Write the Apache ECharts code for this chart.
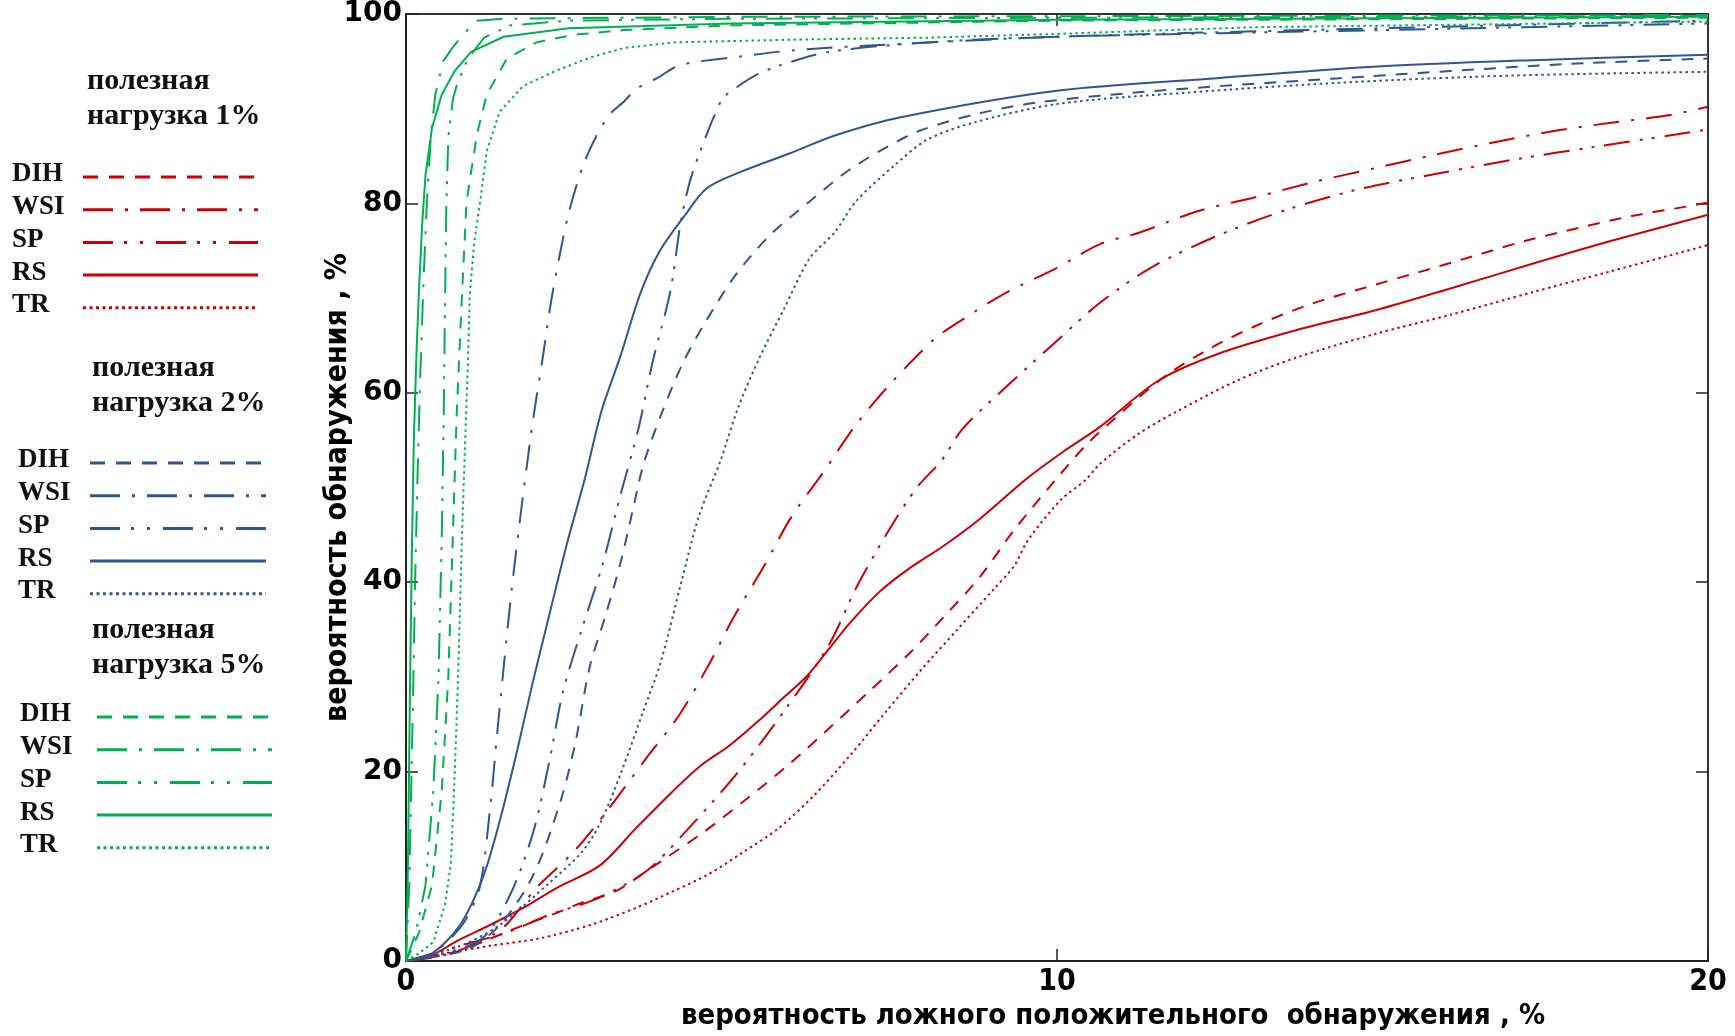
<!DOCTYPE html>
<html>
<head>
<meta charset="utf-8">
<title>ROC</title>
<script src="https://cdn.jsdelivr.net/npm/echarts@6/dist/echarts.min.js"></script>
<style>
  html, body { margin: 0; padding: 0; background: #fff; }
  #chart { width: 1735px; height: 1036px; }
</style>
</head>
<body>
<div id="chart"></div>
<script>
// axes
const xTicks = [0, 10, 20];
const yTicks = [0, 20, 40, 60, 80, 100];
const xName = 'вероятность ложного положительного  обнаружения , %';
const yName = 'вероятность обнаружения , %';
const methods = ['DIH', 'WSI', 'SP', 'RS', 'TR'];
const payloads = ['полезная\nнагрузка 1%', 'полезная\nнагрузка 2%', 'полезная\nнагрузка 5%'];

// payload 1% (red)
const red_DIH = [[0,0],[0.78,1],[1.24,2.2],[1.7,3.5],[2.21,4.8],[2.72,6.2],[3.2,7.3],[3.53,8.7],[3.91,10.5],[4.57,13.6],[5.23,17.1],[5.89,20.8],[6.52,24.7],[7.12,28.5],[7.75,32.6],[8.27,36.4],[8.82,40.6],[9.34,45.5],[9.89,50.1],[10.45,54.5],[11.02,58.1],[11.65,61.7],[12.38,64.8],[13.13,67.3],[13.91,69.4],[14.73,71.1],[15.54,72.7],[16.38,74.4],[17.17,76],[18.01,77.4],[18.85,78.7],[19.7,79.7],[20,80.1]];
const red_WSI = [[0,0],[0.52,0.5],[1.03,1.7],[1.49,3.5],[2,7.7],[2.57,11.5],[3.05,15.5],[3.7,21.5],[4.2,26],[4.66,31.4],[5.05,36.5],[5.5,41.7],[5.92,46.9],[6.4,51.5],[6.91,56.6],[7.46,61.1],[8.12,65.7],[8.45,67.3],[9.2,70.5],[10,73.2],[10.66,75.7],[11.26,76.9],[12.17,79.2],[13.07,80.7],[13.97,82.3],[14.87,83.7],[15.78,85.1],[16.68,86.4],[17.59,87.6],[18.49,88.5],[19.39,89.3],[20,90.2]];
const red_SP = [[0,0],[0.52,1],[1.03,2],[1.55,3],[2.21,4.9],[2.83,6.3],[3.45,8.4],[3.8,10.1],[4.46,14.9],[5.12,20.1],[5.83,26.6],[6.49,33.3],[6.93,39.6],[7.48,46.2],[7.86,50.1],[8.22,52.8],[8.55,56.2],[9.2,60.5],[10,65.5],[10.66,69.5],[11.44,73.2],[12.47,76.6],[13.56,79.4],[14.7,81.6],[15.89,83.2],[17.08,84.7],[18.29,86],[19.43,87.2],[20,87.8]];
const red_RS = [[0,0],[0.42,0.7],[0.78,2.1],[1.29,3.8],[1.8,5.6],[2.31,7.7],[2.98,10.1],[3.53,14],[4.08,17.8],[4.52,20.6],[4.96,22.7],[5.39,25.2],[5.83,28],[6.16,30.1],[6.49,32.9],[6.82,35.7],[7.26,38.9],[7.7,41.3],[8.25,43.8],[8.8,46.6],[9.51,50.8],[10.1,53.8],[10.66,56.4],[11.56,61.3],[12.47,64.1],[13.67,66.6],[14.88,68.7],[16.08,71.1],[17.29,73.6],[18.49,76],[20,78.8]];
const red_TR = [[0,0],[0.52,0.7],[1.29,1.6],[2.06,2.4],[2.83,3.8],[3.53,5.6],[4.08,7.3],[4.63,9.1],[5.18,11.5],[5.72,14],[6.27,17.5],[6.82,21.7],[7.37,26.3],[7.92,30.8],[8.47,35],[9.02,39.2],[9.34,41.7],[9.56,44.5],[10.06,48.7],[10.44,50.8],[10.66,52.5],[11.26,55.7],[11.86,58.1],[12.77,61.3],[13.67,63.7],[14.88,66.2],[16.08,68.3],[17.29,70.6],[18.49,72.8],[20,75.6]];

// payload 2% (blue)
const blue_DIH = [[0,0],[0.93,1.2],[1.44,3.8],[1.95,9],[2.37,16.8],[2.6,23],[2.82,31],[3.07,36.6],[3.29,41.9],[3.48,47.5],[3.65,52.5],[3.92,57.7],[4.25,63.1],[4.61,67.6],[5.07,72.5],[5.6,76.7],[6.2,80.2],[6.8,83.5],[7.4,86],[7.9,87.7],[8.8,89.5],[9.75,90.7],[11.55,91.9],[14.3,93.2],[17.8,94.7],[20,95.3]];
const blue_WSI = [[0,0],[0.4,0.8],[0.7,2.5],[0.93,4.5],[1.14,8],[1.29,16],[1.4,24],[1.5,31],[1.62,39],[1.74,46],[1.86,52.5],[1.97,58],[2.1,63.7],[2.22,69.3],[2.36,74.5],[2.5,79],[2.72,84],[2.93,87.2],[3.13,89.4],[3.34,90.7],[3.54,92.1],[3.85,93.2],[4.21,94.6],[5.13,95.5],[6,96.2],[7.5,96.8],[10,97.6],[15,98.5],[20,99.3]];
const blue_SP = [[0,0],[0.6,0.8],[1.19,2.5],[1.6,7],[1.95,13.5],[2.2,21],[2.41,28.4],[2.69,34.8],[3.02,41.9],[3.29,49.1],[3.57,56.2],[3.79,63.3],[4.06,70.7],[4.22,78],[4.36,82.3],[4.52,85.5],[4.72,89],[4.87,91.1],[5.13,92.5],[5.39,93.6],[5.75,94.6],[6.5,96],[8,97],[10,97.6],[15,98.3],[20,99]];
const blue_RS = [[0,0],[0.4,0.8],[0.83,3.8],[1.19,9],[1.44,14.8],[1.7,22],[1.95,29.5],[2.2,36.5],[2.47,44],[2.75,51],[3,58],[3.3,64],[3.6,70.5],[3.9,75],[4.28,78.7],[4.62,81.6],[5.13,83.3],[5.9,85.3],[6.6,87.2],[7.6,89.1],[10,91.9],[12.4,93.2],[14.8,94.4],[17.2,95.1],[20,95.7]];
const blue_TR = [[0,0],[0.8,1.5],[1.44,3.8],[2.21,8.3],[2.7,11.5],[2.98,14.5],[3.31,20],[3.64,26.3],[3.91,31.5],[4.24,40.3],[4.5,47],[4.83,52.8],[5.1,58.4],[5.43,63.7],[5.81,68.9],[6.2,74.2],[6.58,76.9],[6.91,80.2],[7.5,84],[8,86.7],[8.7,88.5],[10,90.5],[12,91.7],[14.5,92.8],[17,93.5],[20,93.9]];

// payload 5% (green)
const green_DIH = [[0,0],[0.2,3],[0.4,8],[0.55,18],[0.65,30],[0.72,45],[0.78,58],[0.86,70.4],[0.93,80.2],[1.09,87.3],[1.24,91.5],[1.55,95.3],[2,97],[2.57,97.8],[3.34,98.3],[5,98.8],[10,99.3],[20,99.6]];
const green_WSI = [[0,0],[0.05,8],[0.1,25],[0.14,40],[0.18,52],[0.22,62],[0.27,72],[0.32,80],[0.38,87],[0.45,91.5],[0.57,95],[0.72,96.5],[0.9,98],[1.09,99.3],[1.5,99.5],[5,99.7],[20,99.9]];
const green_SP = [[0,0],[0.15,3],[0.3,8],[0.42,18],[0.5,30],[0.55,45],[0.58,58],[0.6,70],[0.62,80],[0.65,87],[0.72,91],[0.78,92.5],[0.95,95.3],[1.2,97.5],[1.6,98.8],[2.5,99.3],[5,99.5],[20,99.8]];
const green_RS = [[0,0],[0.03,10],[0.06,28],[0.09,43],[0.12,55],[0.16,64],[0.2,71],[0.25,78],[0.3,83],[0.4,88],[0.55,91.5],[0.75,94],[1,96],[1.5,97.6],[2.5,98.5],[5,99],[10,99.4],[20,99.7]];
const green_TR = [[0,0],[0.2,0.8],[0.42,2],[0.6,6],[0.69,10.3],[0.75,20],[0.8,30],[0.86,45],[0.91,55],[0.95,63],[0.98,70.4],[1.05,76],[1.14,80.2],[1.24,85.5],[1.44,89.7],[1.8,92.4],[2.3,94],[2.83,95.4],[3.34,96.4],[4.1,97],[6,97.3],[8,97.5],[10,97.9],[13,98.6],[20,99.2]];

const groupData = [
  [red_DIH, red_WSI, red_SP, red_RS, red_TR],
  [blue_DIH, blue_WSI, blue_SP, blue_RS, blue_TR],
  [green_DIH, green_WSI, green_SP, green_RS, green_TR],
];

// styles
const colors = ['#cc0000', '#2c5694', '#00b050'];
const smoothing = [0.3, 0.3, 0];
const plotDash = [[12, 10], [26, 12, 3, 12], [26, 10, 3, 9, 3, 10], 'solid', [2.5, 3.5]];
const legendDash = [[15, 11], [30, 12, 3, 12], [30, 11, 3, 13, 3, 13], 'solid', [3, 3.5]];
const legendPos = [
  { hx: 87, hy: 83, ty: 177, tx: 12, lx1: 83, lx2: 258 },
  { hx: 92, hy: 370, ty: 463, tx: 18, lx1: 90, lx2: 266 },
  { hx: 92, hy: 632, ty: 717, tx: 20, lx1: 97, lx2: 272 },
];
const rowGap = 32.7;
const headGap = 35;
const serif = '"Liberation Serif", "DejaVu Serif", serif';
const narrow = '"Liberation Sans Narrow", "DejaVu Sans Condensed", "DejaVu Sans", sans-serif';

const series = [];
groupData.forEach((lines, g) => {
  lines.forEach((data, m) => {
    series.push({
      name: payloads[g] + ' ' + methods[m],
      type: 'line',
      data,
      showSymbol: false,
      silent: true,
      clip: true,
      smooth: smoothing[g],
      lineStyle: { color: colors[g], width: 2, type: plotDash[m] },
    });
  });
});

const graphic = [];
payloads.forEach((title, g) => {
  const p = legendPos[g];
  title.split('\n').forEach((txt, i) => {
    graphic.push({
      type: 'text',
      left: p.hx,
      top: p.hy + i * headGap - 17,
      style: { text: txt, font: 'bold 30px ' + serif, fill: '#111' },
    });
  });
  methods.forEach((name, m) => {
    const y = p.ty + m * rowGap;
    graphic.push({
      type: 'text',
      left: p.tx,
      top: y - 16,
      style: { text: name, font: 'bold 27px ' + serif, fill: '#111' },
    });
    graphic.push({
      type: 'line',
      shape: { x1: p.lx1, y1: y, x2: p.lx2, y2: y },
      style: {
        stroke: colors[g],
        lineWidth: 3,
        lineDash: legendDash[m] === 'solid' ? null : legendDash[m],
      },
    });
  });
});

const axisLine = { show: true, onZero: false, lineStyle: { color: '#222', width: 2 } };
const axisTick = { show: true, inside: true, length: 12, lineStyle: { color: '#222', width: 1.5 } };

const chart = echarts.init(document.getElementById('chart'));
chart.setOption({
  animation: false,
  backgroundColor: '#fff',
  grid: { left: 406, right: 27, top: 12, bottom: 73 },
  xAxis: [
    {
      type: 'value',
      min: xTicks[0],
      max: xTicks[xTicks.length - 1],
      interval: xTicks[1] - xTicks[0],
      axisLine,
      axisTick,
      splitLine: { show: false },
      axisLabel: {
        showMinLabel: true,
        showMaxLabel: true,
        margin: 6,
        color: '#000',
        fontFamily: narrow,
        fontWeight: 'bold',
        fontSize: 30,
      },
      name: xName,
      nameLocation: 'middle',
      nameGap: 41,
      nameMoveOverlap: false,
      nameTextStyle: {
        color: '#000',
        fontFamily: narrow,
        fontWeight: 'bold',
        fontSize: 29,
        padding: [0, 0, 0, 112],
      },
    },
    {
      type: 'value',
      position: 'top',
      min: xTicks[0],
      max: xTicks[xTicks.length - 1],
      interval: xTicks[1] - xTicks[0],
      axisLine: { show: true, onZero: false, lineStyle: { color: '#333', width: 2 } },
      axisTick,
      axisLabel: { show: false },
      splitLine: { show: false },
    },
  ],
  yAxis: [
    {
      type: 'value',
      min: yTicks[0],
      max: yTicks[yTicks.length - 1],
      interval: yTicks[1] - yTicks[0],
      axisLine,
      axisTick,
      splitLine: { show: false },
      axisLabel: {
        showMinLabel: true,
        showMaxLabel: true,
        margin: 4,
        color: '#000',
        fontFamily: '"DejaVu Sans", sans-serif',
        fontWeight: 'bold',
        fontSize: 28,
      },
      name: yName,
      nameLocation: 'middle',
      nameGap: 53,
      nameMoveOverlap: false,
      nameTextStyle: {
        color: '#000',
        fontFamily: narrow,
        fontWeight: 'bold',
        fontSize: 30,
      },
    },
    {
      type: 'value',
      position: 'right',
      min: yTicks[0],
      max: yTicks[yTicks.length - 1],
      interval: yTicks[1] - yTicks[0],
      axisLine: { show: true, onZero: false, lineStyle: { color: '#333', width: 2 } },
      axisTick,
      axisLabel: { show: false },
      splitLine: { show: false },
    },
  ],
  series,
  graphic,
});
</script>
</body>
</html>
